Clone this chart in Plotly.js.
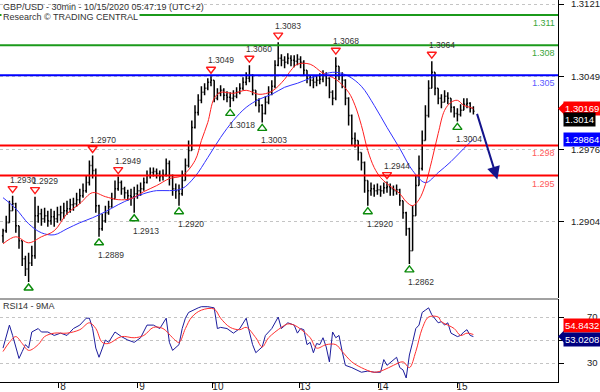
<!DOCTYPE html>
<html><head><meta charset="utf-8">
<script src="https://cdn.plot.ly/plotly-3.0.1.min.js"></script>
<style>html,body{margin:0;padding:0;background:#fff;}#chart{width:600px;height:392px;}</style>
</head><body><div id="chart"></div>
<script>
// ---- price bars (1 bar per hour) ----
const openP = [1.2890,1.2895,1.2903,1.2915,1.2922,1.2900,1.2885,1.2867,1.2857,1.2863,
1.2870,1.2910,1.2912,1.2907,1.2910,1.2905,1.2909,1.2907,1.2911,1.2913,
1.2915,1.2917,1.2921,1.2922,1.2926,1.2930,1.2935,1.2943,1.2960,1.2955,
1.2920,1.2897,1.2905,1.2913,1.2919,1.2927,1.2937,1.2943,1.2937,1.2933,
1.2930,1.2929,1.2932,1.2935,1.2937,1.2943,1.2950,1.2953,1.2954,1.2952,
1.2949,1.2951,1.2962,1.2950,1.2937,1.2935,1.2932,1.2945,1.2960,1.2975,
1.2998,1.3013,1.3025,1.3033,1.3037,1.3043,1.3045,1.3027,1.3032,1.3035,
1.3030,1.3028,1.3027,1.3029,1.3033,1.3037,1.3043,1.3047,1.3050,1.3035,
1.3025,1.3020,1.3012,1.3023,1.3033,1.3039,1.3060,1.3067,1.3065,1.3063,
1.3067,1.3065,1.3064,1.3066,1.3063,1.3055,1.3047,1.3045,1.3043,1.3045,
1.3046,1.3050,1.3047,1.3033,1.3027,1.3059,1.3050,1.3045,1.3027,1.3010,
1.2987,1.2985,1.2973,1.2963,1.2945,1.2935,1.2937,1.2935,1.2936,1.2935,
1.2938,1.2939,1.2937,1.2935,1.2936,1.2925,1.2913,1.2897,1.2875,1.2910,
1.2940,1.2957,1.2985,1.3010,1.3037,1.3053,1.3037,1.3027,1.3023,1.3029,
1.3027,1.3018,1.3012,1.3011,1.3015,1.3021,1.3022,1.3017];
const highP = [1.2897,1.2910,1.2925,1.2930,1.2923,1.2900,1.2885,1.2870,1.2873,1.2880,
1.2929,1.2920,1.2917,1.2918,1.2915,1.2917,1.2915,1.2919,1.2920,1.2923,
1.2925,1.2927,1.2928,1.2933,1.2937,1.2942,1.2950,1.2965,1.2970,1.2957,
1.2921,1.2912,1.2920,1.2925,1.2933,1.2945,1.2949,1.2945,1.2939,1.2936,
1.2937,1.2939,1.2941,1.2943,1.2948,1.2955,1.2958,1.2958,1.2957,1.2955,
1.2956,1.2967,1.2965,1.2951,1.2942,1.2941,1.2955,1.2967,1.2985,1.3005,
1.3020,1.3031,1.3039,1.3042,1.3047,1.3049,1.3045,1.3037,1.3040,1.3037,
1.3034,1.3033,1.3035,1.3038,1.3042,1.3048,1.3053,1.3060,1.3051,1.3035,
1.3027,1.3021,1.3029,1.3039,1.3045,1.3065,1.3083,1.3071,1.3069,1.3072,
1.3070,1.3070,1.3071,1.3069,1.3065,1.3055,1.3050,1.3049,1.3050,1.3052,
1.3055,1.3053,1.3048,1.3035,1.3068,1.3059,1.3053,1.3046,1.3028,1.3011,
1.2993,1.2985,1.2973,1.2964,1.2945,1.2943,1.2941,1.2942,1.2940,1.2943,
1.2944,1.2942,1.2940,1.2941,1.2937,1.2925,1.2914,1.2898,1.2920,1.2950,
1.2970,1.2995,1.3020,1.3045,1.3064,1.3053,1.3037,1.3031,1.3035,1.3033,
1.3027,1.3019,1.3017,1.3021,1.3027,1.3027,1.3023,1.3019];
const lowP = [1.2883,1.2893,1.2903,1.2915,1.2893,1.2877,1.2860,1.2850,1.2844,1.2860,
1.2867,1.2903,1.2900,1.2903,1.2899,1.2901,1.2899,1.2903,1.2905,1.2907,
1.2911,1.2913,1.2915,1.2919,1.2922,1.2928,1.2933,1.2940,1.2947,1.2913,
1.2889,1.2895,1.2903,1.2911,1.2918,1.2927,1.2935,1.2931,1.2927,1.2925,
1.2920,1.2913,1.2927,1.2930,1.2935,1.2942,1.2947,1.2949,1.2947,1.2944,
1.2945,1.2949,1.2940,1.2930,1.2927,1.2920,1.2930,1.2945,1.2958,1.2975,
1.2997,1.3010,1.3022,1.3030,1.3035,1.3039,1.3023,1.3025,1.3029,1.3025,
1.3023,1.3018,1.3024,1.3027,1.3031,1.3035,1.3040,1.3043,1.3030,1.3019,
1.3013,1.3003,1.3011,1.3021,1.3030,1.3037,1.3059,1.3059,1.3057,1.3061,
1.3059,1.3058,1.3060,1.3057,1.3049,1.3042,1.3039,1.3037,1.3039,1.3041,
1.3043,1.3039,1.3027,1.3020,1.3025,1.3045,1.3037,1.3020,1.3000,1.2980,
1.2978,1.2965,1.2955,1.2933,1.2920,1.2930,1.2929,1.2931,1.2929,1.2932,
1.2933,1.2930,1.2930,1.2931,1.2920,1.2907,1.2890,1.2862,1.2875,1.2910,
1.2940,1.2955,1.2985,1.3008,1.3037,1.3030,1.3021,1.3017,1.3023,1.3021,
1.3013,1.3008,1.3004,1.3009,1.3015,1.3017,1.3013,1.3011];
const closeP = [1.2895,1.2903,1.2915,1.2922,1.2900,1.2885,1.2867,1.2857,1.2863,1.2870,
1.2910,1.2912,1.2907,1.2910,1.2905,1.2909,1.2907,1.2911,1.2913,1.2915,
1.2917,1.2921,1.2922,1.2926,1.2930,1.2935,1.2943,1.2960,1.2955,1.2920,
1.2897,1.2905,1.2913,1.2919,1.2927,1.2937,1.2943,1.2937,1.2933,1.2930,
1.2929,1.2932,1.2935,1.2937,1.2943,1.2950,1.2953,1.2954,1.2952,1.2949,
1.2951,1.2962,1.2950,1.2937,1.2935,1.2932,1.2945,1.2960,1.2975,1.2998,
1.3013,1.3025,1.3033,1.3037,1.3043,1.3045,1.3027,1.3032,1.3035,1.3030,
1.3028,1.3027,1.3029,1.3033,1.3037,1.3043,1.3047,1.3050,1.3035,1.3025,
1.3020,1.3012,1.3023,1.3033,1.3039,1.3060,1.3067,1.3065,1.3063,1.3067,
1.3065,1.3064,1.3066,1.3063,1.3055,1.3047,1.3045,1.3043,1.3045,1.3046,
1.3050,1.3047,1.3033,1.3027,1.3059,1.3050,1.3045,1.3027,1.3010,1.2987,
1.2985,1.2973,1.2963,1.2945,1.2935,1.2937,1.2935,1.2936,1.2935,1.2938,
1.2939,1.2937,1.2935,1.2936,1.2925,1.2913,1.2897,1.2875,1.2910,1.2940,
1.2957,1.2985,1.3010,1.3037,1.3053,1.3037,1.3027,1.3023,1.3029,1.3027,
1.3018,1.3012,1.3011,1.3015,1.3021,1.3022,1.3017,1.3014];

// ---- moving averages ----
const redIdx = [0,4,8,12,16,20,24,28,32,36,40,44,48,52,56,60,62,64,66,68,72,76,80,84,88,90,92,96,100,104,108,110,112,114,116,118,120,124,126,128,130,132,134,136,138,140,142,144,146,147];
const redMA = [1.2882,1.2889,1.2883,1.2889,1.2895,1.2912,1.2922,1.2933,1.2929,1.2926,1.2927,1.2934,1.2940,1.2947,1.2950,1.2965,1.2985,1.3003,1.3027,1.3033,1.3032,1.3035,1.3031,1.3034,1.3046,1.3055,1.3061,1.3061,1.3052,1.3046,1.3033,1.3020,1.3000,1.2975,1.2958,1.2948,1.2942,1.2932,1.2924,1.2920,1.2926,1.2941,1.2965,1.2992,1.3015,1.3023,1.3025,1.3020,1.3018,1.30169];
const blueIdx = [0,4,8,12,16,20,24,28,32,36,40,44,48,52,56,60,64,68,72,76,80,84,88,92,96,100,104,108,112,116,120,124,128,132,136,140,144,147];
const blueMA = [1.2928,1.2917,1.2902,1.2893,1.2891,1.2897,1.2903,1.2908,1.2914,1.2921,1.2927,1.2932,1.2935,1.2935,1.2937,1.2949,1.2968,1.2988,1.3005,1.3018,1.3026,1.3031,1.3038,1.3042,1.3047,1.3051,1.3053,1.3049,1.3039,1.3020,1.2998,1.2977,1.2955,1.2943,1.2953,1.2964,1.2977,1.29864];

// ---- RSI14 and its 9MA ----
const rsiIdx = [0,1,2,3,4,5,6,7,8,9,11,12,14,16,18,20,22,24,26,27,28,29,30,31,32,33,35,37,39,41,43,45,47,49,51,52,53,55,56,57,58,61,62,64,66,67,68,70,72,74,76,77,78,79,81,82,84,86,87,89,91,92,93,94,95,96,97,98,99,100,101,102,103,104,105,106,107,109,112,114,116,118,119,120,122,123,124,125,126,127,128,129,130,131,132,133,134,136,137,138,139,140,142,143,144,145,146,147];
const rsiVal = [43,54,63,54,43,34,40,46,43,57,60,57,57,54,56,54,60,63,69,69,60,43,35,43,50,48,57,53,50,48,52,63,63,60,69,48,41,46,60,69,74,78,79,79,78,60,61,60,56,60,69,57,46,39,44,54,60,70,60,65,63,56,60,59,46,48,39,47,46,52,44,31,57,52,54,40,28,26,22,23,22,22,33,28,33,35,26,24,17,37,48,60,63,74,76,78,72,65,66,63,65,56,53,54,57,59,54,53.0208];
const rsiMaIdx = [0,2,4,6,8,11,13,16,20,24,27,29,31,33,37,41,44,47,50,53,55,57,59,62,66,68,71,74,76,79,81,83,87,89,91,93,96,98,101,104,106,109,112,116,119,122,125,127,129,131,133,136,137,141,143,145,147];
const rsiMaVal = [40,48,53,47,41,46,53,56,56,59,65,60,48,47,53,52,54,61,60,52,48,60,70,76,77,69,61,59,61,52,44,52,61,64,63,59.5,52,43,46,46,40,31,26,22,24,28,31,26,40,60,70,70,66,60,54,56,54.8432];

// ---- swing points ----
const peakIdx = [3,10,28,36,65,77,86,104,120,134];
const peakVal = [1.2930,1.2929,1.2970,1.2949,1.3049,1.3060,1.3083,1.3068,1.2944,1.3064];
const peakText = ['1.2930','1.2929','1.2970','1.2949','1.3049','1.3060','1.3083','1.3068','1.2944','1.3064'];
const troughIdx = [8,30,41,55,71,81,114,127,142];
const troughVal = [1.2844,1.2889,1.2913,1.2920,1.3018,1.3003,1.2920,1.2862,1.3004];
const troughText = ['','1.2889','1.2913','1.2920','1.3018','1.3003','1.2920','1.2862','1.3004'];

// ---- key levels, forecast ----
const levels = [1.311,1.308,1.305,1.298,1.295];
const levelText = ['1.311','1.308','1.305','1.298','1.295'];
const forecastX = [148,154.5];
const forecastY = [1.3013,1.2946];

// ---- axes ----
const dayTickIdx = [17.2,41.9,65.6,92.8,117.2,141.9];
const dayTickText = ['8','9','10','13','14','15'];
const priceTicks = [1.2904,1.2976,1.3049,1.3121];
const priceTickText = ['1.2904','1.2976','1.3049','1.3121'];
const rsiTicks = [30,50,70];
const rsiTickText = ['30','','70'];

const barIdx = closeP.map((_, i) => i);
const yR = [1.2828, 1.3125];
const pxU = (yR[1]-yR[0]) / 298;
const FONT = 'Liberation Sans, Arial, sans-serif';

const levelColor = ['#1b9a1b','#1b9a1b','#0000ff','#ff0000','#ff0000'];
const levelTextColor = ['#3aa53a','#3aa53a','#5a5aff','#ff5a5a','#ff5a5a'];

const traces = [
  {type:'ohlc', x:barIdx, open:openP, high:highP, low:lowP, close:closeP,
   increasing:{line:{color:'#000', width:1.5}}, decreasing:{line:{color:'#000', width:1.5}},
   tickwidth:0.35, hoverinfo:'skip', xaxis:'x', yaxis:'y'},
  {type:'scatter', mode:'lines', x:blueIdx, y:blueMA, line:{color:'#3232ff', width:1, shape:'spline', smoothing:1}, xaxis:'x', yaxis:'y', hoverinfo:'skip'},
  {type:'scatter', mode:'lines', x:redIdx, y:redMA, line:{color:'#ff2020', width:1, shape:'spline', smoothing:1}, xaxis:'x', yaxis:'y', hoverinfo:'skip'},
  {type:'scatter', mode:'markers', x:peakIdx, y:peakVal.map(v => v + 7*pxU),
   marker:{symbol:'triangle-down-open', size:8, color:'#ff1a1a', line:{width:1.4}}, xaxis:'x', yaxis:'y', hoverinfo:'skip'},
  {type:'scatter', mode:'markers', x:troughIdx, y:troughVal.map(v => v - 6*pxU),
   marker:{symbol:'triangle-up-open', size:8, color:'#0a8a0a', line:{width:1.4}}, xaxis:'x', yaxis:'y', hoverinfo:'skip'},
  {type:'scatter', mode:'lines', x:rsiIdx, y:rsiVal, line:{color:'#1c1c9c', width:1}, xaxis:'x', yaxis:'y2', hoverinfo:'skip'},
  {type:'scatter', mode:'lines', x:rsiMaIdx, y:rsiMaVal, line:{color:'#ff3030', width:1, shape:'spline', smoothing:1}, xaxis:'x', yaxis:'y2', hoverinfo:'skip'}
];

const shapes = [];
levels.forEach((lv, k) => {
  shapes.push({type:'line', xref:'paper', x0:0, x1:1, yref:'y', y0:lv, y1:lv, line:{color:levelColor[k], width:2}, layer:'above'});
});
const rsiTop = 83/382;
shapes.push({type:'line', xref:'paper', x0:0, x1:1, yref:'paper', y0:rsiTop, y1:rsiTop, line:{color:'#444', width:1}});

const annotations = [];
annotations.push({xref:'paper', yref:'paper', x:0, y:1, xanchor:'left', yanchor:'middle', xshift:1, yshift:-6.5,
  text:'GBP/USD - 30min - 10/15/2020 05:47:19 (UTC+2)', showarrow:false, font:{family:FONT, size:9, color:'#333'}});
annotations.push({xref:'paper', yref:'paper', x:0, y:1, xanchor:'left', yanchor:'middle', xshift:1, yshift:-17,
  text:'Research © TRADING CENTRAL', showarrow:false, bgcolor:'#fff', borderpad:1, font:{family:FONT, size:9, color:'#333'}});
annotations.push({xref:'paper', yref:'paper', x:0, y:rsiTop, xanchor:'left', yanchor:'middle', xshift:1, yshift:-7,
  text:'RSI14 - 9MA', showarrow:false, font:{family:FONT, size:9, color:'#333'}});
levels.forEach((lv, k) => {
  annotations.push({xref:'paper', yref:'y', x:1, y:lv, xanchor:'right', yanchor:'top', xshift:-1, yshift:-1,
    text:levelText[k], showarrow:false, font:{family:FONT, size:9, color:levelTextColor[k]}});
});
peakIdx.forEach((xi, k) => {
  annotations.push({xref:'x', yref:'y', x:xi, y:peakVal[k], xanchor:'left', yanchor:'middle', xshift:-5, yshift:16,
    text:peakText[k], showarrow:false, font:{family:FONT, size:8.5, color:'#333'}});
});
troughIdx.forEach((xi, k) => {
  if (!troughText[k]) return;
  annotations.push({xref:'x', yref:'y', x:xi, y:troughVal[k], xanchor:'left', yanchor:'middle', xshift:-3, yshift:-18,
    text:troughText[k], showarrow:false, font:{family:FONT, size:8.5, color:'#333'}});
});
annotations.push({xref:'x', yref:'y', x:forecastX[1], y:forecastY[1], axref:'x', ayref:'y', ax:forecastX[0], ay:forecastY[0],
  showarrow:true, arrowhead:2, arrowsize:1.3, arrowwidth:2, arrowcolor:'#14148c', text:''});

// value boxes on the right
const lastRed = redMA[redMA.length-1], lastBlue = blueMA[blueMA.length-1], lastClose = closeP[closeP.length-1];
const lastRsi = rsiVal[rsiVal.length-1], lastRsiMa = rsiMaVal[rsiMaVal.length-1];
function box(yref, y, txt, bg, yshift) {
  annotations.push({xref:'paper', yref:yref, x:1, y:y, xanchor:'left', yanchor:'middle', xshift:5, yshift:yshift,
    text:txt, showarrow:false, bgcolor:bg, borderpad:1, font:{family:FONT, size:9.5, color:'#fff'}});
}
box('y', lastRed, lastRed.toFixed(5), '#ff0000', 0);
box('y', lastClose, lastClose.toFixed(4), '#000000', -8);
box('y', lastBlue, lastBlue.toFixed(5), '#0000ff', 0);
box('y2', lastRsiMa, lastRsiMa.toFixed(4), '#ff0000', 9);
box('y2', lastRsi, lastRsi.toFixed(4), '#000080', -3);
function pointer(yref, y, col) {
  shapes.push({type:'path', xref:'paper', yref:yref, xsizemode:'pixel', ysizemode:'pixel', xanchor:1, yanchor:y,
    path:'M0,0 L6,6 L6,-6 Z', fillcolor:col, line:{width:0}});
}
pointer('y', lastRed, '#ff0000');
pointer('y2', lastRsi, '#000080');

const layout = {
  width:600, height:392,
  margin:{l:0, r:42, t:0, b:10, pad:0},
  paper_bgcolor:'#fff', plot_bgcolor:'#fff',
  showlegend:false,
  font:{family:FONT, size:9, color:'#222'},
  xaxis:{domain:[0,1], anchor:'y2', range:[-0.94,173.44], showgrid:false, zeroline:false,
    showline:true, linecolor:'#000', linewidth:1, ticks:'outside', ticklen:5, tickcolor:'#000',
    tickvals:dayTickIdx, ticktext:dayTickText, tickfont:{family:FONT, size:10, color:'#222'},
    ticklabelshift:5, ticklabelstandoff:-10, ticklabeloverflow:'allow', rangeslider:{visible:false}, fixedrange:true},
  yaxis:{domain:[84/382,1], anchor:'x', side:'right', range:yR, tickvals:priceTicks, ticktext:priceTickText,
    showgrid:true, gridcolor:'#c4c4c4', griddash:'dot', gridwidth:1, zeroline:false,
    showline:true, linecolor:'#000', linewidth:1, ticks:'outside', ticklen:5, tickcolor:'#000',
    tickfont:{family:FONT, size:9.5, color:'#222'}, ticklabelstandoff:5, ticklabeloverflow:'allow', fixedrange:true},
  yaxis2:{domain:[0,rsiTop], anchor:'x', side:'right', range:[13.5,85.7], tickvals:rsiTicks, ticktext:rsiTickText,
    showgrid:true, gridcolor:'#c4c4c4', griddash:'dot', gridwidth:1, zeroline:false,
    showline:true, linecolor:'#000', linewidth:1, ticks:'outside', ticklen:5, tickcolor:'#000',
    tickfont:{family:FONT, size:9.5, color:'#222'}, ticklabelstandoff:21, fixedrange:true},
  shapes:shapes,
  annotations:annotations
};
Plotly.newPlot('chart', traces, layout, {staticPlot:true, displayModeBar:false});
</script></body></html>
